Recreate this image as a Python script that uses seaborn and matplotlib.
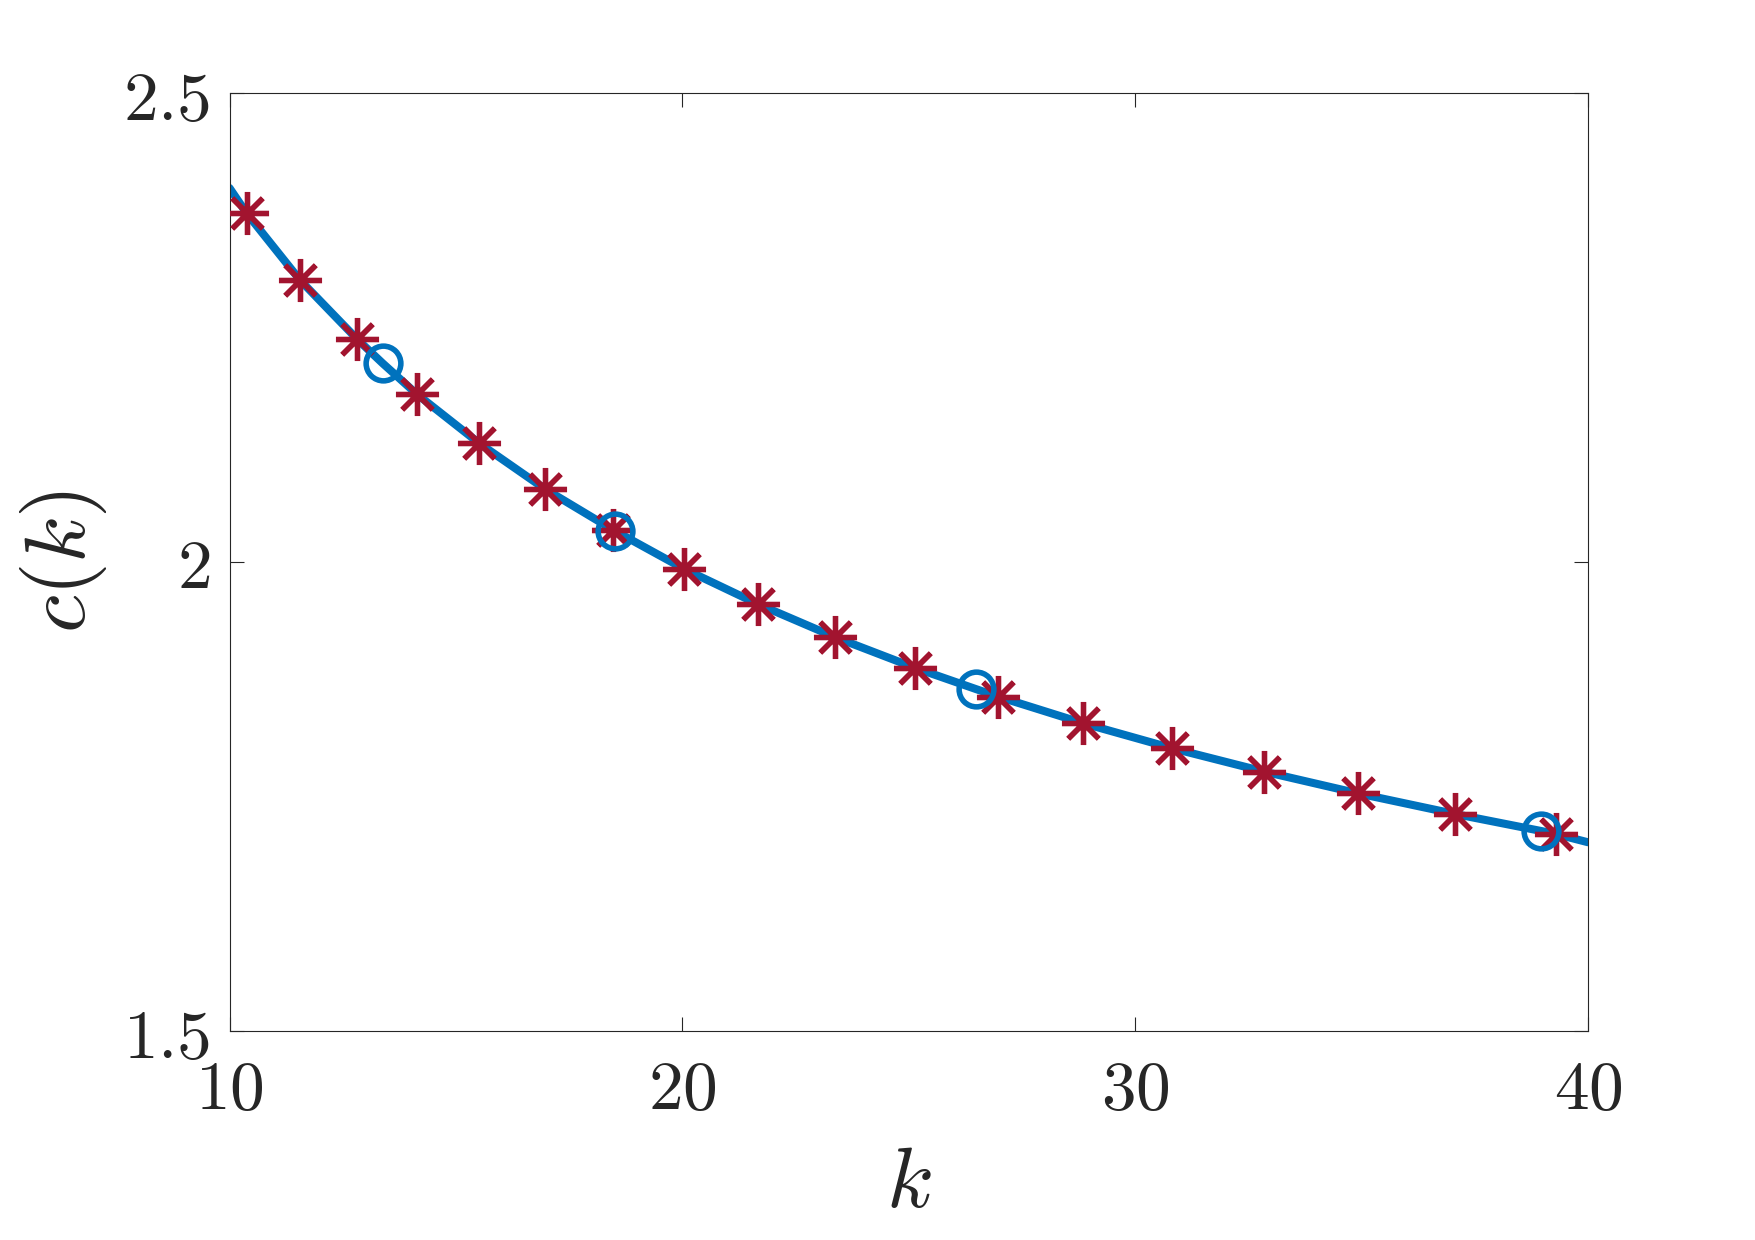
import numpy as np
import pandas as pd
import matplotlib
matplotlib.use("Agg")
import matplotlib.pyplot as plt
import seaborn as sns
from matplotlib.ticker import FuncFormatter, FixedLocator

# ---- data ----
curve_k = [10.0, 10.38, 11.557, 12.822, 13.383, 14.134, 15.517, 16.968, 18.476, 20.044,
           21.679, 23.38, 25.146, 26.479, 26.979, 28.858, 30.82, 32.85, 34.916, 37.07,
           38.97, 39.29, 40.0]
curve_c = [2.3987, 2.3717, 2.3006, 2.2374, 2.2118, 2.1791, 2.1265, 2.0778, 2.0341, 1.9925,
           1.9549, 1.9197, 1.8870, 1.8646, 1.8564, 1.8280, 1.8014, 1.7765, 1.7534, 1.7313,
           1.7132, 1.7100, 1.7012]

star_k = [10.38, 11.557, 12.822, 14.134, 15.517, 16.968, 18.476, 20.044, 21.679, 23.38,
          25.146, 26.979, 28.858, 30.82, 32.85, 34.916, 37.07, 39.29]
star_c = [2.3717, 2.3006, 2.2374, 2.1791, 2.1265, 2.0778, 2.0341, 1.9925, 1.9549, 1.9197,
          1.8870, 1.8564, 1.8280, 1.8014, 1.7765, 1.7534, 1.7313, 1.7100]

circle_k = [13.383, 18.514, 26.479, 38.97]
circle_c = [2.2118, 2.0330, 1.8646, 1.7132]

x_ticks = [10, 20, 30, 40]
y_ticks = [1.5, 2.0, 2.5]

BLUE = "#0072BD"
RED = "#A2142F"
DARK = "#262626"

sns.set_theme(style="white")
plt.rcParams["mathtext.fontset"] = "cm"
plt.rcParams["font.family"] = ["DejaVu Sans"]

fig = plt.figure(figsize=(17.55, 12.4), dpi=100)
ax = fig.add_axes([229.5 / 1755, 1 - 1031 / 1240, (1588 - 229.5) / 1755, (1031 - 93) / 1240])

sns.lineplot(x=curve_k, y=curve_c, ax=ax, color=BLUE, linewidth=5.8, sort=False,
             estimator=None, zorder=2)
sns.lineplot(x=star_k, y=star_c, ax=ax, color=RED, linestyle="", marker=(8, 2, 0),
             markersize=31, markeredgecolor=RED, markeredgewidth=3.8,
             estimator=None, zorder=3)
sns.lineplot(x=circle_k, y=circle_c, ax=ax, color=BLUE, linestyle="", marker="o",
             markersize=25, markerfacecolor="none", markeredgecolor=BLUE,
             markeredgewidth=4.0, estimator=None, zorder=4)

ax.set_xlim(10, 40)
ax.set_ylim(1.5, 2.5)
ax.xaxis.set_major_locator(FixedLocator(x_ticks))
ax.yaxis.set_major_locator(FixedLocator(y_ticks))
ax.xaxis.set_major_formatter(FuncFormatter(lambda v, p: f"${v:g}$"))
ax.yaxis.set_major_formatter(FuncFormatter(lambda v, p: f"${v:g}$"))

ax.tick_params(axis="both", which="major", direction="in", length=10, width=0.8,
               color=DARK, labelcolor=DARK, labelsize=50, top=True, right=True,
               bottom=True, left=True)
ax.tick_params(axis="x", pad=18)
ax.tick_params(axis="y", pad=14)
for s in ax.spines.values():
    s.set_visible(True)
    s.set_color(DARK)
    s.set_linewidth(0.8)

ax.set_xlabel("$k$", fontsize=62, color=DARK, labelpad=14)
ax.set_ylabel("$c(k)$", fontsize=62, color=DARK, labelpad=10)

fig.savefig("out.png", dpi=100, facecolor="white")
